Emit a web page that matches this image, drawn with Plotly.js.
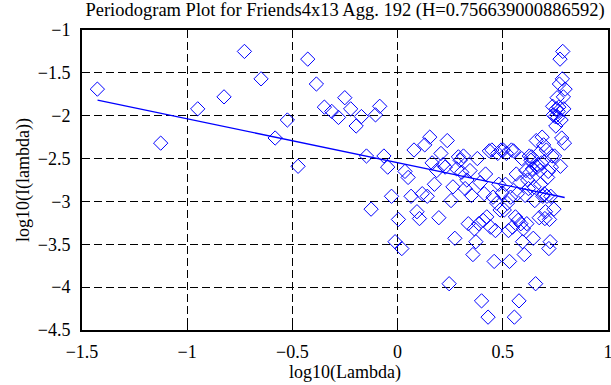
<!DOCTYPE html>
<html>
<head>
<meta charset="utf-8">
<script src="https://cdn.plot.ly/plotly-3.0.1.min.js"></script>
<style>html,body{margin:0;padding:0;background:#fff;}#chart{width:611px;height:385px;}</style>
</head>
<body>
<div id="chart"></div>
<script>
// log10(Lambda) for each periodogram frequency
const logLambda = [
-1.427,-1.126,-0.950,-0.825,-0.728,-0.649,-0.582,-0.524,-0.473,-0.427,
-0.386,-0.348,-0.313,-0.281,-0.251,-0.223,-0.197,-0.172,-0.148,-0.126,
-0.105,-0.085,-0.065,-0.047,-0.029,-0.012,0.004,0.020,0.035,0.050,
0.064,0.078,0.092,0.104,0.117,0.129,0.141,0.153,0.164,0.175,
0.186,0.196,0.206,0.216,0.226,0.236,0.245,0.254,0.263,0.272,
0.281,0.289,0.297,0.305,0.313,0.321,0.329,0.336,0.344,0.351,
0.358,0.365,0.372,0.379,0.386,0.393,0.399,0.406,0.412,0.418,
0.424,0.430,0.436,0.442,0.448,0.454,0.459,0.465,0.471,0.476,
0.481,0.487,0.492,0.497,0.502,0.507,0.513,0.517,0.522,0.527,
0.532,0.537,0.541,0.546,0.551,0.555,0.560,0.564,0.569,0.573,
0.577,0.582,0.586,0.590,0.594,0.598,0.602,0.606,0.610,0.614,
0.618,0.622,0.626,0.630,0.634,0.637,0.641,0.645,0.649,0.652,
0.656,0.659,0.663,0.666,0.670,0.673,0.677,0.680,0.684,0.687,
0.690,0.694,0.697,0.700,0.703,0.707,0.710,0.713,0.716,0.719,
0.722,0.725,0.728,0.731,0.734,0.737,0.740,0.743,0.746,0.749,
0.752,0.755,0.758,0.761,0.763,0.766,0.769,0.772,0.774,0.777,
0.780,0.783,0.785,0.788,0.790,0.793,0.796
];
// log10(I(lambda)) values
const logI = [
-1.69,-2.32,-1.92,-1.78,-1.25,-1.57,-2.26,-2.05,-2.59,-1.34,
-1.63,-1.90,-1.95,-2.02,-1.79,-1.92,-2.12,-2.01,-2.47,-3.09,
-1.99,-1.89,-2.47,-2.60,-2.94,-3.47,-3.21,-3.55,-2.65,-2.72,
-2.94,-2.40,-3.12,-3.20,-2.91,-2.34,-2.94,-2.25,-2.55,-2.80,
-2.64,-3.19,-2.44,-2.57,-2.60,-2.29,-3.96,-2.99,-2.83,-3.43,
-2.62,-2.48,-2.52,-2.66,-2.47,-2.85,-2.75,-3.26,-2.64,-2.93,
-3.62,-3.32,-3.47,-2.50,-3.26,-2.78,-4.16,-3.22,-2.91,-2.68,
-3.18,-4.35,-2.41,-3.30,-2.40,-2.95,-3.70,-3.34,-3.02,-2.44,
-2.80,-3.10,-2.40,-2.90,-2.40,-3.10,-2.80,-2.44,-3.02,-3.34,
-3.70,-2.95,-2.40,-3.30,-2.41,-4.35,-3.18,-2.68,-2.91,-3.22,
-4.16,-2.78,-3.26,-2.50,-3.47,-3.32,-3.62,-2.93,-2.64,-3.26,
-2.75,-2.85,-2.47,-2.66,-2.52,-2.48,-2.62,-3.43,-2.83,-2.99,
-3.96,-2.29,-2.60,-2.57,-2.44,-3.19,-2.64,-2.80,-2.55,-2.25,
-2.94,-2.34,-2.91,-3.20,-3.12,-2.40,-2.94,-2.72,-2.65,-3.55,
-3.21,-3.47,-2.94,-2.60,-2.47,-1.89,-1.99,-3.09,-2.47,-2.01,
-2.12,-1.92,-1.79,-2.02,-1.95,-1.90,-1.63,-1.34,-2.59,-2.05,
-2.26,-1.57,-1.25,-1.78,-1.92,-2.32,-1.69
];
// least-squares fit line end points
const fitX = [-1.426, 0.794];
const fitY = [-1.818, -2.954];
const xTickVals = [-1.5, -1, -0.5, 0, 0.5, 1];
const xTickText = ['\u22121.5', '\u22121', '\u22120.5', '0', '0.5', '1'];
const yTickVals = [-4.5, -4, -3.5, -3, -2.5, -2, -1.5, -1];
const yTickText = ['\u22124.5', '\u22124', '\u22123.5', '\u22123', '\u22122.5', '\u22122', '\u22121.5', '\u22121'];
const titleText = 'Periodogram Plot for Friends4x13 Agg. 192 (H=0.756639000886592)';

const fam = '"Liberation Serif", "Times New Roman", serif';
const font = {family: fam, size: 18, color: '#000'};
const axisCommon = {
  showline: true, linecolor: '#000', linewidth: 2, mirror: 'ticks',
  ticks: 'inside', ticklen: 5, tickwidth: 1, tickcolor: '#000',
  showgrid: true, gridcolor: '#000', gridwidth: 1, griddash: '8px,4px',
  zeroline: false, tickfont: font, ticklabeloverflow: 'allow'
};

const traces = [
  {x: logLambda, y: logI, type: 'scatter', mode: 'markers',
   marker: {symbol: 'diamond-open', size: 11, color: '#0000ff', line: {width: 1, color: '#0000ff'}},
   hoverinfo: 'skip', cliponaxis: false},
  {x: fitX, y: fitY, type: 'scatter', mode: 'lines',
   line: {color: '#0000ff', width: 1.3}, hoverinfo: 'skip'}
];

const layout = {
  width: 611, height: 385,
  margin: {l: 82, r: 3, t: 30, b: 55},
  paper_bgcolor: '#fff', plot_bgcolor: '#fff',
  showlegend: false,
  font: font,
  title: {text: titleText, font: {family: fam, size: 18.5, color: '#000'}, x: 0.5, xref: 'paper', xanchor: 'center', y: 1.0, yref: 'container', yanchor: 'top', pad: {t: 3}},
  xaxis: Object.assign({}, axisCommon, {
    range: [-1.5, 1], tickvals: xTickVals, ticktext: xTickText,
    ticklabelstandoff: 4,
    title: {text: 'log10(Lambda)', font: font, standoff: 5}
  }),
  yaxis: Object.assign({}, axisCommon, {
    range: [-4.5, -1], tickvals: yTickVals, ticktext: yTickText,
    ticklabelstandoff: 6,
    title: {text: 'log10(I(lambda))', font: font, standoff: 3}
  })
};

Plotly.newPlot('chart', traces, layout, {staticPlot: true, displayModeBar: false});
</script>
</body>
</html>
